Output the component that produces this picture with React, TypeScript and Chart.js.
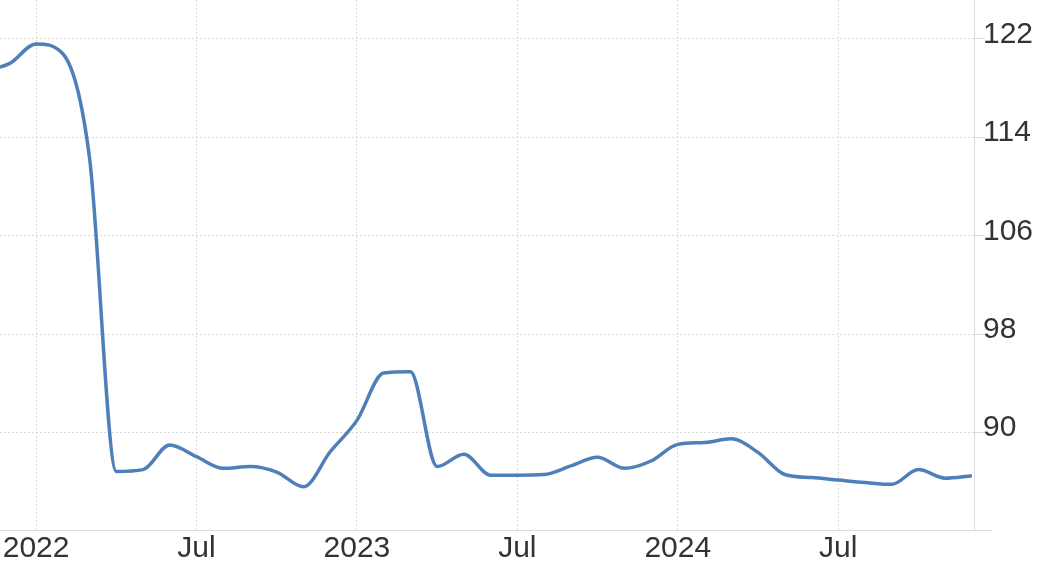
import { useEffect, useRef } from 'react';
import { Chart, registerables } from 'chart.js';

Chart.register(...registerables);

// Monthly readings, Nov 2021 .. Dec 2024
const months = [
  '2021-11', '2021-12',
  '2022-01', '2022-02', '2022-03', '2022-04', '2022-05', '2022-06',
  '2022-07', '2022-08', '2022-09', '2022-10', '2022-11', '2022-12',
  '2023-01', '2023-02', '2023-03', '2023-04', '2023-05', '2023-06',
  '2023-07', '2023-08', '2023-09', '2023-10', '2023-11', '2023-12',
  '2024-01', '2024-02', '2024-03', '2024-04', '2024-05', '2024-06',
  '2024-07', '2024-08', '2024-09', '2024-10', '2024-11', '2024-12',
];
const values = [
  119.4, 120.0,
  121.6, 120.8, 112.3, 86.85, 87.0, 89.0,
  88.05, 87.1, 87.25, 86.8, 85.6, 88.45,
  91.0, 94.85, 94.95, 87.25, 88.25, 86.55,
  86.55, 86.6, 87.3, 88.0, 87.1, 87.7,
  89.05, 89.2, 89.5, 88.4, 86.6, 86.35,
  86.15, 85.95, 85.8, 87.0, 86.3, 86.5,
];

const xTickMonths = [0, 6, 12, 18, 24, 30];
const xTickLabels = ['2022', 'Jul', '2023', 'Jul', '2024', 'Jul'];
const yTickValues = [90, 98, 106, 114, 122];

const X_MIN = -1.35;
const X_MAX = 35.08;
const Y_MIN = 82.09;
const Y_MAX = 125.17;

function monthIndex(s: string): number {
  const [y, m] = s.split('-').map(Number);
  return (y - 2022) * 12 + (m - 1);
}

const FONT = { family: '"Liberation Sans", Arial, sans-serif', size: 30 };
const TEXT = '#333333';
const GRID = '#d9d9d9';
const AXIS = '#dadada';

export default function App() {
  const ref = useRef<HTMLCanvasElement>(null);

  useEffect(() => {
    const canvas = ref.current;
    if (!canvas) return;

    const axisExtension = {
      id: 'axisExtension',
      afterDraw(chart: any) {
        const { ctx, chartArea } = chart;
        ctx.save();
        ctx.strokeStyle = AXIS;
        ctx.lineWidth = 1;
        ctx.beginPath();
        ctx.moveTo(chartArea.right, chartArea.bottom + 0.5);
        ctx.lineTo(chartArea.right + 18, chartArea.bottom + 0.5);
        ctx.stroke();
        ctx.restore();
      },
    };

    const chart = new Chart(canvas, {
      type: 'line',
      data: {
        datasets: [
          {
            data: months.map((m, i) => ({ x: monthIndex(m), y: values[i] })),
            borderColor: '#4f7fb8',
            borderWidth: 3.5,
            pointRadius: 0,
            pointHoverRadius: 0,
            cubicInterpolationMode: 'monotone',
            fill: false,
          },
        ],
      },
      options: {
        animation: false,
        responsive: false,
        devicePixelRatio: 1,
        layout: { padding: 0 },
        plugins: { legend: { display: false }, tooltip: { enabled: false } },
        scales: {
          x: {
            type: 'linear',
            min: X_MIN,
            max: X_MAX,
            afterBuildTicks: (axis: any) => {
              axis.ticks = xTickMonths.map((v) => ({ value: v }));
            },
            afterFit: (axis: any) => {
              axis.height = 52;
              axis.paddingLeft = 0;
              axis.paddingRight = 0;
              axis.paddingTop = 0;
              axis.paddingBottom = 0;
            },
            ticks: {
              autoSkip: false,
              maxRotation: 0,
              padding: 1,
              color: TEXT,
              font: FONT,
              callback: (v: any) => {
                const i = xTickMonths.indexOf(Number(v));
                return i >= 0 ? xTickLabels[i] : '';
              },
            },
            grid: { color: GRID, lineWidth: 1, drawTicks: false },
            border: { display: true, color: AXIS, width: 1, dash: [2, 2] },
          },
          y: {
            type: 'linear',
            position: 'right',
            min: Y_MIN,
            max: Y_MAX,
            afterBuildTicks: (axis: any) => {
              axis.ticks = yTickValues.map((v) => ({ value: v }));
            },
            afterFit: (axis: any) => {
              axis.width = 67;
              axis.paddingLeft = 0;
              axis.paddingRight = 0;
              axis.paddingTop = 0;
              axis.paddingBottom = 0;
            },
            ticks: {
              padding: -2,
              labelOffset: -4.5,
              color: TEXT,
              font: FONT,
              callback: (v: any) => String(v),
            },
            grid: {
              color: GRID,
              lineWidth: 1,
              drawTicks: true,
              tickLength: 11,
              tickColor: AXIS,
            },
            border: { display: true, color: AXIS, width: 1, dash: [2, 2] },
          },
        },
      },
      plugins: [axisExtension],
    } as any);

    return () => chart.destroy();
  }, []);

  return (
    <div style={{ position: 'absolute', left: 0, top: 0, width: 1041, height: 582, background: '#ffffff' }}>
      <canvas ref={ref} width={1041} height={582} style={{ display: 'block' }} />
    </div>
  );
}
